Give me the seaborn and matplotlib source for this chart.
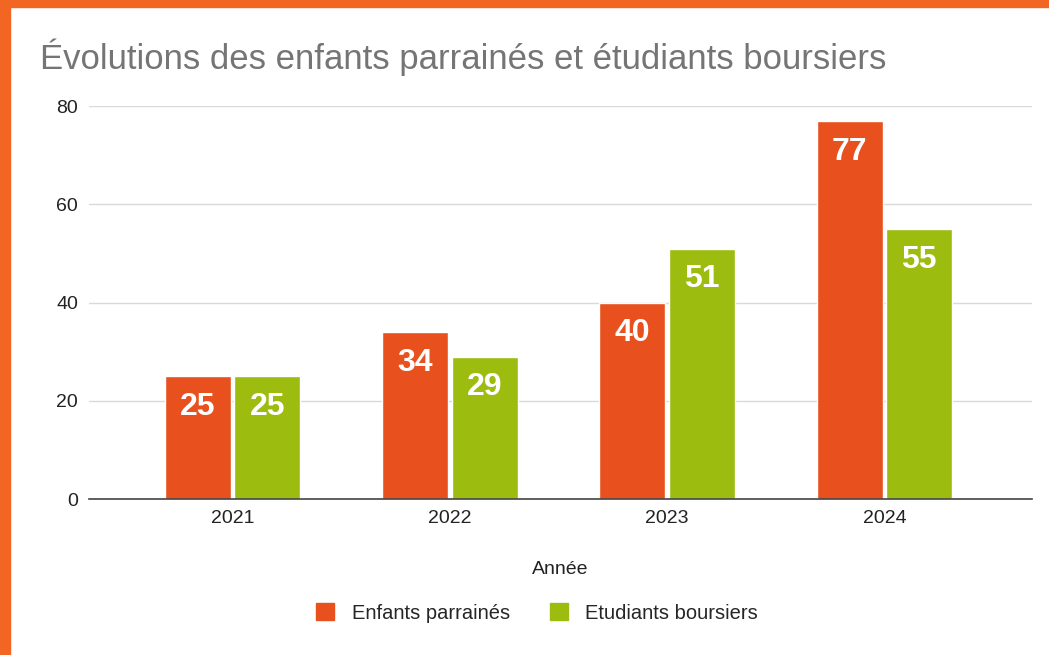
import matplotlib.pyplot as plt
import matplotlib.patches as mpatches
import pandas as pd
import seaborn as sns

annees = ['2021', '2022', '2023', '2024']
enfants_parraines = [25, 34, 40, 77]
etudiants_boursiers = [25, 29, 51, 55]
series = ['Enfants parrainés', 'Etudiants boursiers']

df = pd.DataFrame({
    'Année': annees * 2,
    'valeur': enfants_parraines + etudiants_boursiers,
    'serie': [series[0]] * 4 + [series[1]] * 4,
})

sns.set_theme(style='white')
plt.rcParams['font.family'] = ['Liberation Sans', 'DejaVu Sans']

fig = plt.figure(figsize=(10.49, 6.55), dpi=100)
ax = fig.add_axes([0.085, 0.238, 0.899, 0.6])

palette = {series[0]: '#E8501D', series[1]: '#9CBD10'}
sns.barplot(data=df, x='Année', y='valeur', hue='serie', palette=palette,
            width=0.64, gap=0.05, saturation=1, ax=ax, legend=False)

for cont in ax.containers:
    ax.bar_label(cont, label_type='edge', padding=-33, color='white',
                 fontsize=23, fontweight='bold')

ax.set_ylim(0, 80)
ax.set_xlim(-0.66, 3.68)
ax.set_yticks([0, 20, 40, 60, 80])
ax.yaxis.grid(True, color='#d9d9d9', linewidth=1)
ax.set_axisbelow(True)
for s in ['top', 'right', 'left']:
    ax.spines[s].set_visible(False)
ax.spines['bottom'].set_color('#444444')
ax.spines['bottom'].set_linewidth(1.2)
ax.tick_params(axis='both', length=0, labelsize=14, colors='#222222')
ax.tick_params(axis='x', pad=8)
ax.tick_params(axis='y', pad=8)
ax.set_ylabel('')
ax.set_xlabel('Année', fontsize=14, color='#222222', labelpad=24)

handles = [mpatches.Patch(color=palette[s], label=s) for s in series]
ax.legend(handles=handles, loc='center', bbox_to_anchor=(0.475, -0.29),
          ncol=2, frameon=False, fontsize=14.5, handlelength=0.9,
          handleheight=0.9, columnspacing=2.0, handletextpad=0.85)

fig.text(0.038, 0.912, 'Évolutions des enfants parrainés et étudiants boursiers',
         fontsize=25, color='#757575', ha='left', va='center')

# orange frame on left and top
fig.patches.append(mpatches.Rectangle((0, 0), 10 / 1049, 1, transform=fig.transFigure,
                                      color='#F26522', zorder=0))
fig.patches.append(mpatches.Rectangle((0, 1 - 7 / 655), 1, 7 / 655, transform=fig.transFigure,
                                      color='#F26522', zorder=0))

fig.savefig('out.png', dpi=100)
